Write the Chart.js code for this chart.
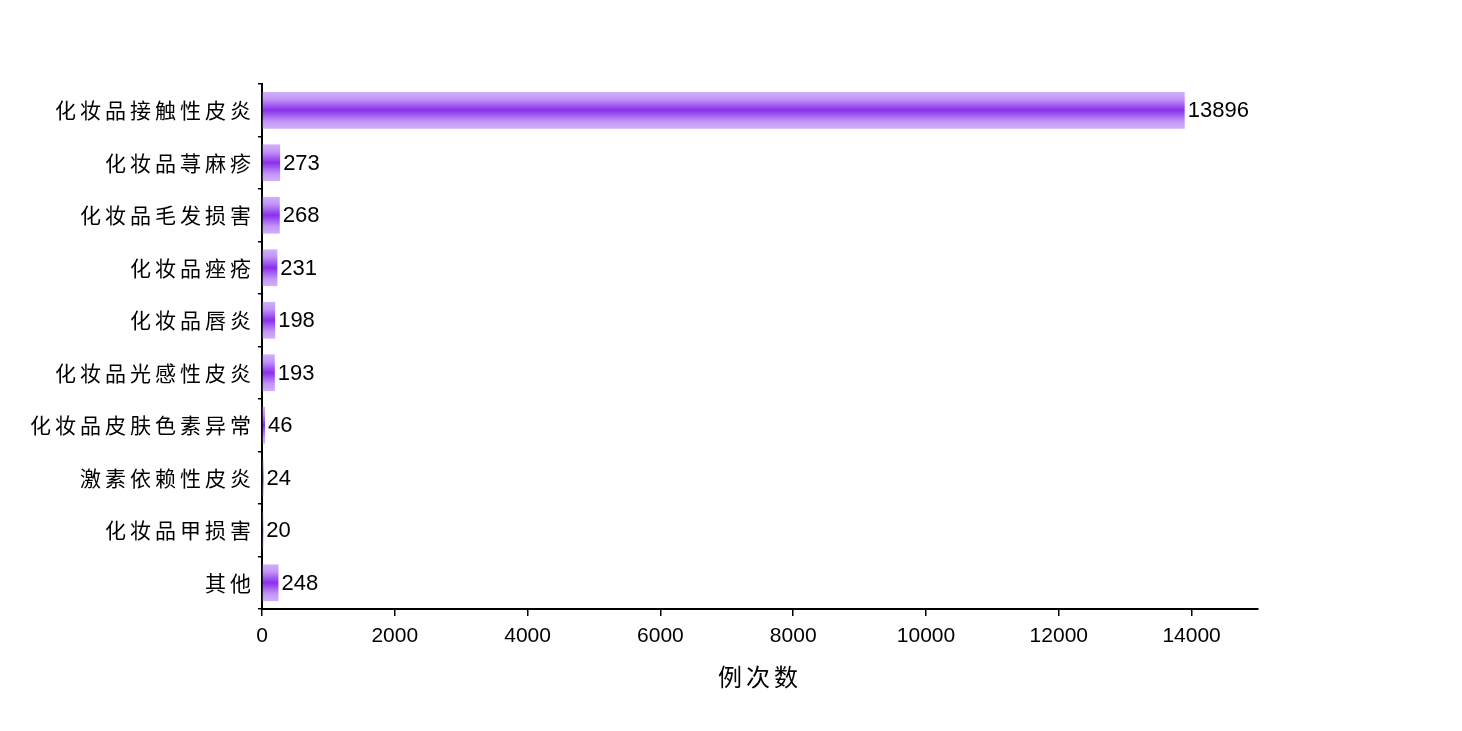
<!DOCTYPE html>
<html>
<head>
<meta charset="utf-8">
<script src="https://cdn.jsdelivr.net/npm/chart.js@4/dist/chart.umd.min.js"></script>
<style>
  html, body { margin: 0; padding: 0; background: #ffffff; }
  #wrap { width: 1462px; height: 731px; }
</style>
</head>
<body>
<div id="wrap"><canvas id="barChart" width="1462" height="731"></canvas></div>
<script>
// catégories et valeurs
const categories = [
    '化妆品接触性皮炎', '化妆品荨麻疹', '化妆品毛发损害', '化妆品痤疮', '化妆品唇炎',
    '化妆品光感性皮炎', '化妆品皮肤色素异常', '激素依赖性皮炎', '化妆品甲损害', '其他'
];
const cases = [13896, 273, 268, 231, 198, 193, 46, 24, 20, 248];
const xTicks = [0, 2000, 4000, 6000, 8000, 10000, 12000, 14000];
const xTitle = '例次数';

const barPct = 0.7;
const cjkFont = '"Noto Sans CJK SC", "Noto Sans CJK JP", sans-serif';
const numFont = '"Liberation Sans", Arial, sans-serif';

// dégradé vertical clair / violet foncé / clair pour chaque barre
function barGradient(context) {
    const chart = context.chart;
    const y = chart.scales.y;
    if (!y || context.type !== 'data') return '#9340f0';
    const c = y.getPixelForValue(context.dataIndex);
    const half = (y.height / categories.length) * barPct / 2;
    if (!isFinite(c) || !isFinite(half) || half <= 0) return '#9340f0';
    const g = chart.ctx.createLinearGradient(0, c - half, 0, c + half);
    g.addColorStop(0, '#d2b0fa');
    g.addColorStop(0.2, '#c194f6');
    g.addColorStop(0.5, '#8a30ec');
    g.addColorStop(0.8, '#c194f6');
    g.addColorStop(1, '#d2b0fa');
    return g;
}

// espacement des caractères chinois (étiquettes de l'axe y et titre x)
const spacingPlugin = {
    id: 'spacing',
    beforeDraw(chart) { chart.ctx.letterSpacing = '4px'; },
    beforeDatasetsDraw(chart) { chart.ctx.letterSpacing = '0px'; }
};

// valeurs au bout des barres
const valueLabels = {
    id: 'valueLabels',
    afterDatasetsDraw(chart) {
        const ctx = chart.ctx;
        ctx.save();
        ctx.letterSpacing = '0px';
        ctx.font = '22px ' + numFont;
        ctx.fillStyle = '#000000';
        ctx.textAlign = 'left';
        ctx.textBaseline = 'middle';
        chart.getDatasetMeta(0).data.forEach((bar, i) => {
            ctx.fillText(String(cases[i]), bar.x + 3, bar.y + 1);
        });
        ctx.restore();
    }
};

new Chart(document.getElementById('barChart').getContext('2d'), {
    type: 'bar',
    data: {
        labels: categories,
        datasets: [{
            data: cases,
            backgroundColor: barGradient,
            borderWidth: 0,
            barPercentage: barPct,
            categoryPercentage: 1
        }]
    },
    options: {
        indexAxis: 'y',
        responsive: false,
        animation: false,
        devicePixelRatio: 1,
        layout: { padding: { left: 0, right: 204, top: 84, bottom: 40 } },
        plugins: {
            legend: { display: false },
            tooltip: { enabled: false }
        },
        scales: {
            x: {
                min: 0,
                max: 15000,
                afterBuildTicks: (scale) => {
                    scale.ticks = xTicks.map(v => ({ value: v }));
                },
                afterFit: (scale) => { scale.height = 82; },
                border: { display: true, color: '#000000', width: 2 },
                grid: { drawOnChartArea: false, drawTicks: true, tickLength: 7, color: '#000000', lineWidth: 1.5 },
                ticks: {
                    z: 1,
                    color: '#000000',
                    padding: 8,
                    font: { family: numFont, size: 21 },
                    callback: (value) => String(value)
                },
                title: {
                    display: true,
                    text: xTitle,
                    color: '#000000',
                    padding: { top: 4, bottom: 0 },
                    font: { family: cjkFont, size: 24 }
                }
            },
            y: {
                afterFit: (scale) => { scale.width = 262; },
                border: { display: true, color: '#000000', width: 2 },
                grid: { offset: true, drawOnChartArea: false, drawTicks: true, tickLength: 4, color: '#000000', lineWidth: 1.5 },
                ticks: { z: 0, color: '#000000', padding: 3, font: { family: cjkFont, size: 21 } }
            }
        }
    },
    plugins: [spacingPlugin, valueLabels]
});
</script>
</body>
</html>
